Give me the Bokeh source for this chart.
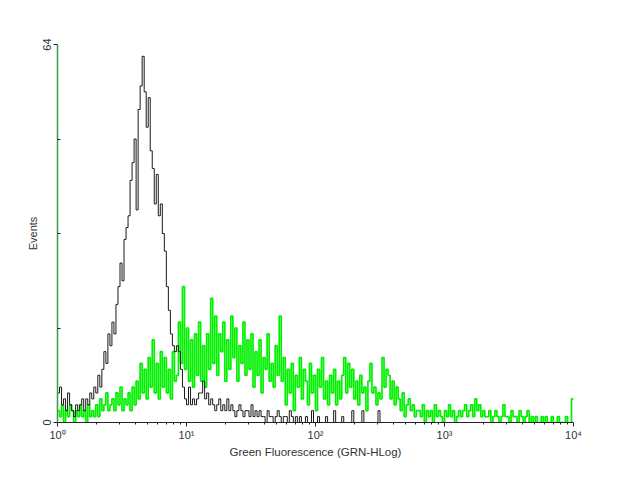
import numpy as np
from bokeh.plotting import figure
from bokeh.models import FixedTicker, Range1d
from bokeh.embed import file_html
from bokeh.resources import INLINE

CHANNELS_PER_DECADE = 64

# Isotype / negative control histogram (black), counts per channel
black_counts = [
    5, 6, 3, 4, 2, 5, 3, 2, 1, 3, 2, 3, 4, 2, 4, 3, 5, 4, 6, 5,
    8, 6, 9, 12, 10, 15, 13, 17, 15, 20, 23, 27, 24, 31, 33, 35, 41, 44, 48, 36,
    53, 57, 62, 56, 50, 55, 46, 43, 37, 42, 35, 37, 32, 29, 23, 19, 15, 13, 12, 13,
    12, 9, 6,
    4, 3, 6, 3, 4, 3, 4, 5, 5, 7, 4, 5, 3, 4, 3, 2, 3, 4, 2, 3,
    2, 4, 2, 3, 2, 1, 2, 3, 2, 1, 2, 2, 1, 3, 1, 2, 1, 2, 1, 1,
    0, 2, 1, 1, 0, 1, 2, 1, 0, 1, 1, 0, 2, 1, 0, 1, 0, 1, 0, 0,
    1, 0, 0, 2, 0, 0, 1, 0, 0, 0, 1, 0, 0, 0, 2, 0, 0, 0, 1, 0,
    0, 0, 0, 2, 0, 0, 0, 0, 2, 0, 0, 0, 0, 0, 0, 0, 2, 0,
    0, 0, 0, 0, 0, 0, 0, 0, 0, 0, 0, 0, 0, 0, 0,
]

# Stained sample histogram (green), counts per channel
green_counts = [
    2, 1, 3, 0, 2, 1, 3, 2, 0, 2, 1, 3, 1, 2, 0, 3, 1, 2, 1,
    3, 1, 4, 2, 3, 5, 2, 3,
    4, 2, 5, 3, 6, 2, 4, 3, 5, 2,
    6, 3, 7, 4, 10,
    5, 9, 4, 11, 6,
    14, 5, 10, 4, 12, 6, 11, 5,
    9, 4, 12, 7,
    8, 17, 10, 23,
    9, 16, 7, 14, 6, 15, 8, 17, 7, 13, 6, 15, 9,
    21,
    10, 18, 8, 15, 12, 17, 7, 14, 9, 18, 11, 16, 7, 13, 10, 17, 8, 14,
    9, 15, 6, 12, 8, 14, 5, 11, 9, 15, 7, 10, 6, 13, 8, 18,
    7, 11, 3, 9, 5, 10, 2, 8, 6, 11, 4, 9, 7, 3, 10, 5, 8, 2, 9, 6, 11, 4, 7, 3, 8,
    5, 9, 3, 7, 4,
    8, 11, 5, 10, 6, 9, 4,
    7, 3, 8, 5, 6, 2, 7,
    10, 5,
    6, 3, 5, 4,
    11, 6, 9,
    8, 4, 7, 3, 6,
    4, 2, 5, 1, 3, 4, 2, 3, 1, 2,
    2, 1, 3, 0, 2, 1, 2, 0, 3, 1, 2, 1, 0, 2, 1, 3, 1, 2, 0, 1, 2, 1,
    2, 3, 1, 2, 3, 1, 4, 2, 3, 1, 2, 1,
    1, 2, 0, 1, 2, 1, 0, 1, 3, 1,
    1, 0, 2, 1, 1, 0, 2, 1, 0, 1, 2, 0, 1, 0,
    1, 0, 0, 1, 0, 1, 0, 0, 1, 0, 0, 1, 0, 0, 0, 1, 0, 0,
    4,
]

x_major_ticks = [1, 10, 100, 1000, 10000]
x_major_labels = ["10\u2070", "10\u00b9", "10\u00b2", "10\u00b3", "10\u2074"]
x_minor_mantissas = [2, 3, 4, 5, 6, 7, 8, 9]
y_major_ticks = [0, 64]
y_minor_ticks = [16, 32, 48]

x_label = "Green Fluorescence (GRN-HLog)"
y_label = "Events"


def step_xy(counts):
    n = len(counts)
    edges = 10 ** (np.arange(n + 1) / CHANNELS_PER_DECADE)
    ys = list(counts) + [counts[-1]]
    return edges, ys


p = figure(
    width=621, height=464,
    x_axis_type="log",
    x_range=Range1d(1, 10000), y_range=Range1d(0, 64),
    output_backend="svg", toolbar_location=None,
    min_border_left=57, min_border_right=48,
    min_border_top=44, min_border_bottom=42,
)
p.outline_line_color = None
p.grid.visible = False
p.background_fill_color = "white"
p.border_fill_color = "white"

gx, gy = step_xy(green_counts)
p.step(gx, gy, mode="after", line_color="#00f000", line_width=1.7)
bx, by = step_xy(black_counts)
p.step(bx, by, mode="after", line_color="#1a1a1a", line_width=1.0)

font = "Liberation Sans"

xa = p.xaxis[0]
xa.ticker = FixedTicker(
    ticks=x_major_ticks,
    minor_ticks=[m * t for t in x_major_ticks[:-1] for m in x_minor_mantissas],
)
xa.major_label_overrides = {t: lab for t, lab in zip(x_major_ticks, x_major_labels)}
xa.axis_line_color = "#222222"
xa.major_tick_line_color = "#222222"
xa.minor_tick_line_color = "#222222"
xa.major_tick_out = 4
xa.major_tick_in = 0
xa.minor_tick_out = 2
xa.minor_tick_in = 0
xa.major_label_standoff = 2
xa.major_label_text_font = font
xa.major_label_text_font_size = "11px"
xa.major_label_text_color = "#333333"
xa.axis_label = x_label
xa.axis_label_text_font = font
xa.axis_label_text_font_size = "11.5px"
xa.axis_label_text_font_style = "normal"
xa.axis_label_text_color = "#333333"
xa.axis_label_standoff = 2

ya = p.yaxis[0]
ya.ticker = FixedTicker(ticks=y_major_ticks, minor_ticks=y_minor_ticks)
ya.axis_line_color = "#3a9a3a"
ya.axis_line_width = 1.5
ya.major_tick_line_color = "#222222"
ya.minor_tick_line_color = "#222222"
ya.major_tick_out = 4
ya.major_tick_in = 0
ya.minor_tick_out = 0
ya.minor_tick_in = 3
ya.major_label_orientation = "vertical"
ya.major_label_standoff = 3
ya.major_label_text_font = font
ya.major_label_text_font_size = "11px"
ya.major_label_text_color = "#333333"
ya.axis_label = y_label
ya.axis_label_text_font = font
ya.axis_label_text_font_size = "11px"
ya.axis_label_text_font_style = "normal"
ya.axis_label_text_color = "#333333"
ya.axis_label_standoff = 1

open("out.html", "w").write(file_html(p, INLINE))
